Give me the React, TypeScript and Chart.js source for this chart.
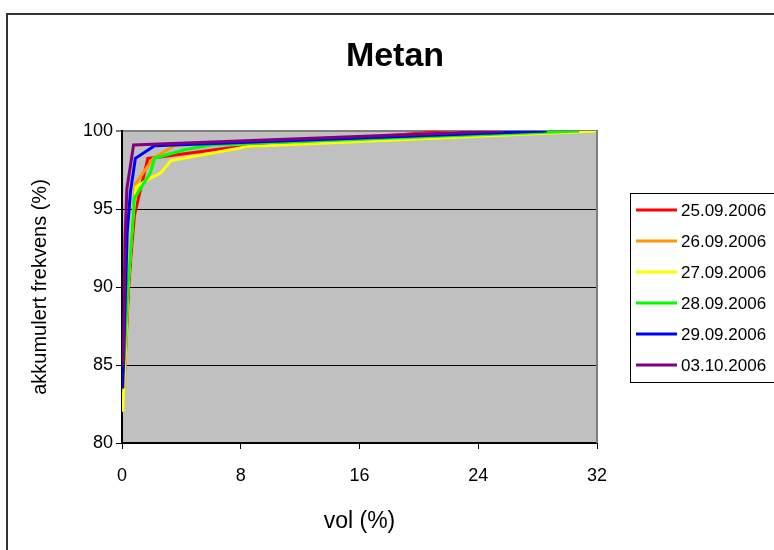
import React, { useEffect, useRef } from "react";
import { Chart, registerables } from "chart.js";

Chart.register(...registerables);

const chartTitle = "Metan";
const xAxisTitle = "vol (%)";
const yAxisTitle = "akkumulert frekvens (%)";

const seriesLabels = ["25.09.2006", "26.09.2006", "27.09.2006", "28.09.2006", "29.09.2006", "03.10.2006"];
const seriesColors = ["#FF0000", "#FF9900", "#FFFF00", "#00FF00", "#0000FF", "#800080"];

const vol25 = [0.17, 0.45, 0.62, 0.84, 1.74, 2.3, 7, 22];
const frek25 = [84.5, 90, 92.2, 94.6, 98.25, 98.3, 98.9, 100];

const vol26 = [0.15, 0.4, 0.9, 2.1, 3.6, 25];
const frek26 = [83.5, 90, 96.6, 98.25, 99.1, 100];

const vol27 = [0.05, 0.4, 0.7, 0.95, 1.75, 2.6, 3.3, 8.5, 32];
const frek27 = [82, 90, 94.2, 96.4, 96.9, 97.3, 98.1, 99, 100];

const vol28 = [0.1, 0.4, 0.84, 1.9, 2.2, 4.2, 6, 30.8];
const frek28 = [84.5, 90, 95.7, 97.3, 98.25, 98.8, 99.1, 100];

const vol29 = [0.05, 0.35, 0.57, 0.9, 2.2, 28.6];
const frek29 = [83.5, 93.5, 96.1, 98.25, 99.05, 100];

const vol03 = [0.08, 0.2, 0.33, 0.78, 25.7];
const frek03 = [85, 93, 96.3, 99.1, 100];

const seriesVol = [vol25, vol26, vol27, vol28, vol29, vol03];
const seriesFrek = [frek25, frek26, frek27, frek28, frek29, frek03];

const xTicks = [0, 8, 16, 24, 32];
const yTicks = [80, 85, 90, 95, 100];

const FONT = "'Liberation Sans', Arial, sans-serif";

export default function App() {
  const canvasRef = useRef<HTMLCanvasElement | null>(null);

  useEffect(() => {
    const canvas = canvasRef.current;
    if (!canvas) return;

    const datasets = seriesLabels.map((label, i) => ({
      label,
      data: seriesVol[i].map((v, j) => ({ x: v, y: seriesFrek[i][j] })),
      borderColor: seriesColors[i],
      backgroundColor: seriesColors[i],
      borderWidth: 3,
      pointRadius: 0,
      showLine: true,
      tension: 0,
      fill: false,
      order: seriesLabels.length - 1 - i,
    }));

    const decorPlugin = {
      id: "decor",
      beforeDraw(chart: any) {
        const { ctx, chartArea } = chart;
        ctx.save();
        ctx.fillStyle = "#C0C0C0";
        ctx.fillRect(chartArea.left, chartArea.top, chartArea.right - chartArea.left, chartArea.bottom - chartArea.top);
        ctx.restore();
      },
      afterDatasetsDraw(chart: any) {
        const { ctx, chartArea } = chart;
        ctx.save();
        ctx.strokeStyle = "#808080";
        ctx.lineWidth = 2;
        ctx.beginPath();
        ctx.moveTo(chartArea.right, chartArea.top - 1);
        ctx.lineTo(chartArea.right, chartArea.bottom);
        ctx.stroke();
        ctx.restore();
      },
      afterDraw(chart: any) {
        const { ctx } = chart;
        ctx.save();
        ctx.fillStyle = "#000";
        ctx.font = `bold 34px ${FONT}`;
        ctx.textAlign = "center";
        ctx.textBaseline = "middle";
        ctx.fillText(chartTitle, 395, 57);
        ctx.strokeStyle = "#000";
        ctx.lineWidth = 1;
        ctx.strokeRect(630.5, 193.5, 170, 189);
        ctx.font = `17px ${FONT}`;
        ctx.textAlign = "left";
        chart.data.datasets.forEach((ds: any, i: number) => {
          const y = 210 + 31 * i;
          ctx.strokeStyle = ds.borderColor;
          ctx.lineWidth = 3;
          ctx.beginPath();
          ctx.moveTo(636, y);
          ctx.lineTo(677, y);
          ctx.stroke();
          ctx.fillStyle = "#000";
          ctx.fillText(ds.label, 681, y + 1);
        });
        ctx.restore();
      },
    };

    const chart = new Chart(canvas, {
      type: "scatter",
      data: { datasets },
      plugins: [decorPlugin],
      options: {
        responsive: false,
        animation: false,
        layout: { padding: { left: 0, right: 177, top: 131, bottom: 0 } },
        plugins: {
          legend: { display: false },
          title: { display: false },
          tooltip: { enabled: false },
        },
        scales: {
          x: {
            type: "linear",
            min: xTicks[0],
            max: xTicks[xTicks.length - 1],
            afterBuildTicks: (scale: any) => {
              scale.ticks = xTicks.map((v) => ({ value: v }));
            },
            afterFit: (scale: any) => {
              scale.height = 107;
            },
            grid: {
              drawOnChartArea: false,
              drawTicks: true,
              tickLength: 6,
              color: "#000",
              lineWidth: 1,
            },
            border: { display: true, color: "#000", width: 2 },
            ticks: {
              color: "#000",
              font: { family: FONT, size: 18 },
              padding: 16,
              maxRotation: 0,
            },
            title: {
              display: true,
              text: xAxisTitle,
              color: "#000",
              font: { family: FONT, size: 23 },
              padding: { top: 0, bottom: 14.2 },
            },
          },
          y: {
            type: "linear",
            min: yTicks[0],
            max: yTicks[yTicks.length - 1],
            afterBuildTicks: (scale: any) => {
              scale.ticks = yTicks.map((v) => ({ value: v }));
            },
            afterFit: (scale: any) => {
              scale.width = 122;
            },
            grid: {
              drawOnChartArea: true,
              drawTicks: true,
              tickLength: 6,
              color: (c: any) => (c.tick && c.tick.value === 100 ? "#808080" : "#000"),
              lineWidth: (c: any) => (c.tick && c.tick.value === 100 ? 2 : 1),
            },
            border: { display: true, color: "#000", width: 2 },
            ticks: {
              color: "#000",
              font: { family: FONT, size: 18 },
              padding: 3,
            },
            title: {
              display: true,
              text: yAxisTitle,
              color: "#000",
              font: { family: FONT, size: 20 },
              padding: { top: 28, bottom: 0 },
            },
          },
        },
      } as any,
    });

    return () => chart.destroy();
  }, []);

  return (
    <div style={{ position: "fixed", left: 0, top: 0, width: 774, height: 550, overflow: "hidden", background: "#fff" }}>
      <div
        style={{
          position: "absolute",
          left: 6,
          top: 13,
          width: 800,
          height: 600,
          border: "2px solid #333",
          boxSizing: "border-box",
        }}
      />
      <canvas
        ref={canvasRef}
        width={774}
        height={550}
        style={{ position: "absolute", left: 0, top: 0, width: 774, height: 550 }}
      />
    </div>
  );
}
